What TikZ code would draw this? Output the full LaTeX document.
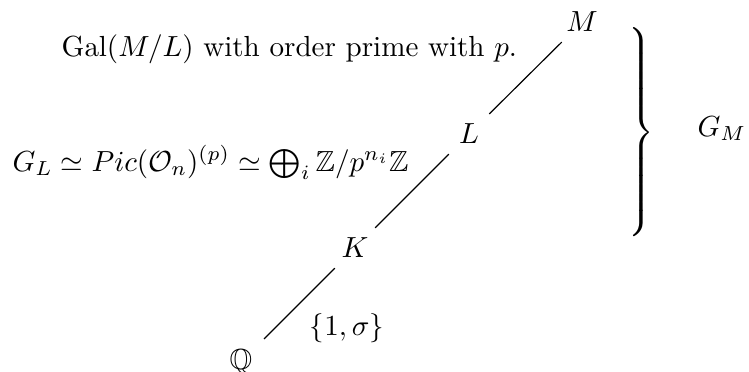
\documentclass[tikz,border=0pt]{standalone}
\usepackage{amsmath,amssymb}
\begin{document}
\begin{tikzpicture}[x=0.344pt,y=-0.344pt,
  field/.style={inner sep=0pt},
  lab/.style={inner sep=0pt},
  link/.style={line width=0.4pt,shorten <=9.8pt,shorten >=9.8pt}]
\useasboundingbox (0,0) rectangle (749,371);
\node[field] (M) at (582,22) {$M$};
\node[field] (L) at (469,134) {$L$};
\node[field] (K) at (355,248) {$K$};
\node[field] (Q) at (241,362) {$\mathbb{Q}$};
\draw[link] (M.center) -- (L.center);
\draw[link] (L.center) -- (K.center);
\draw[link,shorten <=11.2pt] (Q.center) -- (K.center);
\node[lab,anchor=base west] (gal) at (61,56) {$\mathrm{Gal}(M/L)$ with order prime with $p$.};
\node[lab,anchor=base west] (gl) at (12,171) {$G_L \simeq Pic(\mathcal{O}_n)^{(p)} \simeq \bigoplus_i \mathbb{Z}/p^{n_i}\mathbb{Z}$};
\node[lab] (s) at (347,328) {$\{1,\sigma\}$};
\node[lab] (br) at (640,136) {$\left.\vrule height 36pt depth 36pt width 0pt\right\}$};
\node[lab,anchor=base west] (gm) at (697,136) {$G_M$};
\end{tikzpicture}
\end{document}
